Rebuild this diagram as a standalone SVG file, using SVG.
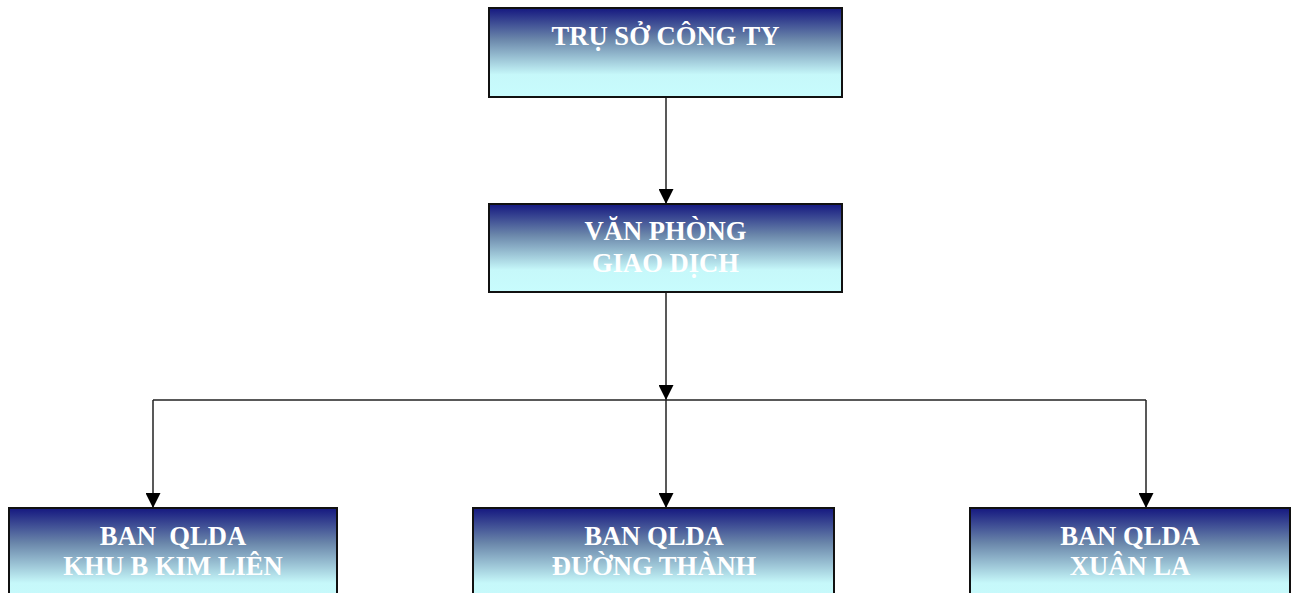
<svg xmlns="http://www.w3.org/2000/svg" width="1293" height="593" viewBox="0 0 1293 593">
<defs>
<linearGradient id="g" x1="0" y1="0" x2="0" y2="1">
<stop offset="0" stop-color="#151880"/>
<stop offset="0.35" stop-color="#6a86aa"/>
<stop offset="0.75" stop-color="#c6f8fa"/>
<stop offset="1" stop-color="#c8fcfd"/>
</linearGradient>
<marker id="a" markerWidth="15" markerHeight="15" refX="15" refY="7.5" orient="auto" markerUnits="userSpaceOnUse">
<path d="M0,0 L15,7.5 L0,15 Z" fill="#000"/>
</marker>
<style>
.box{fill:url(#g);stroke:#111;stroke-width:2}
.t{font-family:"Liberation Serif","Times New Roman",serif;font-weight:bold;font-size:26.6px;fill:#fff;text-anchor:middle}
.c{fill:none;stroke:#222;stroke-width:1.5}
</style>
</defs>
<g id="connectors">
<line class="c" x1="666" y1="97" x2="666" y2="204" marker-end="url(#a)"/>
<line class="c" x1="666" y1="292" x2="666" y2="400" marker-end="url(#a)"/>
<path class="c" d="M153,400 H1146"/>
<line class="c" x1="153" y1="400" x2="153" y2="508" marker-end="url(#a)"/>
<line class="c" x1="666" y1="400" x2="666" y2="508" marker-end="url(#a)"/>
<line class="c" x1="1146" y1="400" x2="1146" y2="508" marker-end="url(#a)"/>
</g>
<g id="n1">
<rect class="box" x="489" y="8" width="353" height="89"/>
<text class="t" x="665.5" y="45">TRỤ SỞ CÔNG TY</text>
</g>
<g id="n2">
<rect class="box" x="489" y="204" width="353" height="88"/>
<text class="t" x="665.5" y="240">VĂN PHÒNG</text>
<text class="t" x="665.5" y="272">GIAO DỊCH</text>
</g>
<g id="n3">
<rect class="box" x="9" y="508" width="328" height="100"/>
<text class="t" x="173" y="545" xml:space="preserve">BAN  QLDA</text>
<text class="t" x="173" y="575">KHU B KIM LIÊN</text>
</g>
<g id="n4">
<rect class="box" x="473" y="508" width="361" height="100"/>
<text class="t" x="654" y="545">BAN QLDA</text>
<text class="t" x="654" y="575">ĐƯỜNG THÀNH</text>
</g>
<g id="n5">
<rect class="box" x="970" y="508" width="320" height="100"/>
<text class="t" x="1130" y="545">BAN QLDA</text>
<text class="t" x="1130" y="575">XUÂN LA</text>
</g>
</svg>
